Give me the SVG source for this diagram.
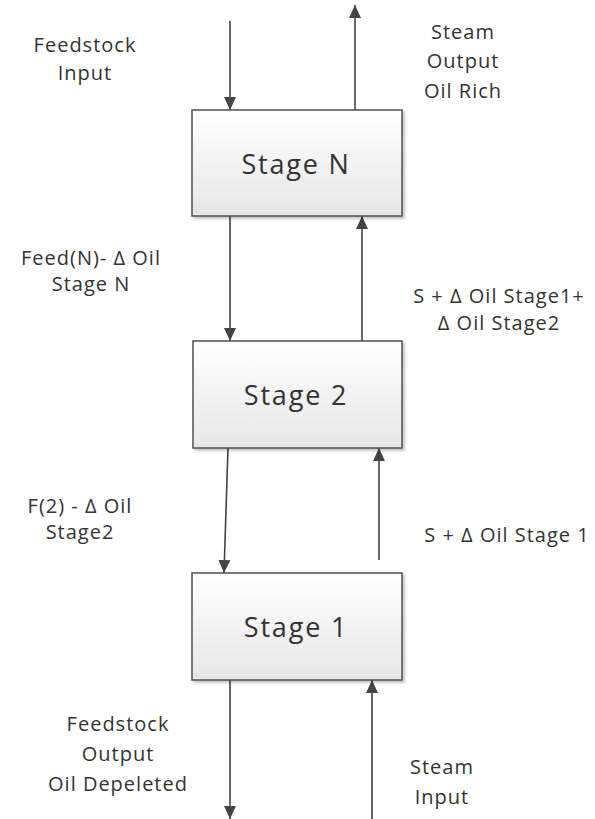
<svg xmlns="http://www.w3.org/2000/svg" width="595" height="819" viewBox="0 0 595 819">
<style>
.box{fill:url(#g);stroke:#505050;stroke-width:1.5}
.lbl{font-family:"Open Sans","Liberation Sans",sans-serif;font-size:20px;letter-spacing:1px;fill:#333;text-anchor:middle}
.st{font-family:"Open Sans","Liberation Sans",sans-serif;font-size:27px;letter-spacing:1.8px;fill:#333;text-anchor:middle}
.c{stroke:#444;stroke-width:1.6;fill:none;marker-end:url(#a)}
</style>
<defs>
<linearGradient id="g" x1="0" y1="0" x2="0" y2="1"><stop offset="0" stop-color="#ffffff"/><stop offset="1" stop-color="#e6e6e6"/></linearGradient>
<marker id="a" markerWidth="14" markerHeight="14" viewBox="0 0 14 14" refX="13" refY="7" orient="auto" markerUnits="userSpaceOnUse"><path d="M0,1 L13,7 L0,13 z" fill="#444"/></marker>
<filter id="sh" x="-5%" y="-5%" width="115%" height="115%"><feDropShadow dx="2" dy="2" stdDeviation="1.5" flood-color="#000" flood-opacity="0.25"/></filter>
</defs>
<g id="connectors">
<line class="c" x1="230" y1="21" x2="230" y2="110"/>
<line class="c" x1="355" y1="110" x2="355" y2="5"/>
<line class="c" x1="230" y1="216" x2="230" y2="341"/>
<line class="c" x1="362" y1="341" x2="362" y2="216"/>
<line class="c" x1="228" y1="448" x2="224" y2="573"/>
<line class="c" x1="379" y1="560" x2="379" y2="448"/>
<line class="c" x1="230" y1="680" x2="230" y2="819"/>
<line class="c" x1="372" y1="819" x2="372" y2="680"/>
</g>
<g id="stageN"><rect class="box" filter="url(#sh)" x="192" y="110" width="210" height="106"/><text class="st" x="296" y="174">Stage N</text></g>
<g id="stage2"><rect class="box" filter="url(#sh)" x="193" y="341" width="209" height="107"/><text class="st" x="296" y="405">Stage 2</text></g>
<g id="stage1"><rect class="box" filter="url(#sh)" x="192" y="573" width="210" height="107"/><text class="st" x="296" y="637">Stage 1</text></g>
<g id="labels">
<text class="lbl" x="85" y="52">Feedstock</text>
<text class="lbl" x="85" y="80">Input</text>
<text class="lbl" x="463" y="39">Steam</text>
<text class="lbl" x="463" y="68">Output</text>
<text class="lbl" x="463" y="98">Oil Rich</text>
<text class="lbl" x="91" y="265">Feed(N)- Δ Oil</text>
<text class="lbl" x="91" y="291">Stage N</text>
<text class="lbl" x="499" y="303">S + Δ Oil Stage1+</text>
<text class="lbl" x="499" y="330">Δ Oil Stage2</text>
<text class="lbl" x="80" y="513">F(2) - Δ Oil</text>
<text class="lbl" x="80" y="539">Stage2</text>
<text class="lbl" x="507" y="542">S + Δ Oil Stage 1</text>
<text class="lbl" x="118" y="731">Feedstock</text>
<text class="lbl" x="118" y="761">Output</text>
<text class="lbl" x="118" y="791">Oil Depeleted</text>
<text class="lbl" x="442" y="774">Steam</text>
<text class="lbl" x="442" y="804">Input</text>
</g>
</svg>
